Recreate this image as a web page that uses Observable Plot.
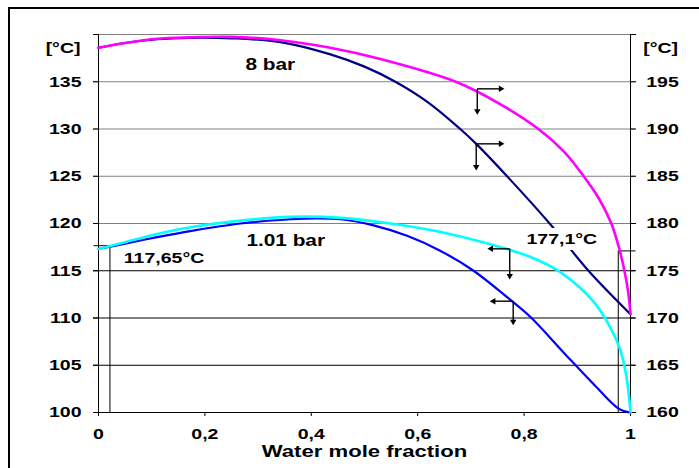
<!DOCTYPE html>
<html><head><meta charset="utf-8">
<script src="https://cdn.jsdelivr.net/npm/d3@7"></script>
<script src="https://cdn.jsdelivr.net/npm/@observablehq/plot@0.6"></script>
<style>
body{margin:0;background:#fff;}
#wrap{position:relative;width:699px;height:468px;overflow:hidden;background:#fff;}
#wrap svg{position:absolute;left:0;top:0;}
#border{position:absolute;left:8px;top:7px;width:900px;height:900px;border-top:2px solid #000;border-left:2px solid #000;z-index:2;}
</style></head><body><div id="wrap"></div>
<script>
// ---- data ----
const xTicks = [0, 0.2, 0.4, 0.6, 0.8, 1];
const xTickLabels = ["0", "0,2", "0,4", "0,6", "0,8", "1"];
const leftTicks = [100, 105, 110, 115, 120, 125, 130, 135, 140];
const rightTicks = [160, 165, 170, 175, 180, 185, 190, 195, 200];
const gridDark = [100, 105, 110, 115];
const gridLight = [120, 125, 130, 135, 140];
const unitLabel = "[°C]";
const xLabel = "Water mole fraction";

// 8 bar curves (right axis, °C)
const dew8X = [0, 0.05, 0.11, 0.17, 0.25, 0.342, 0.436, 0.53, 0.6715, 0.75, 0.827, 0.875, 0.912, 0.94, 0.964, 0.98, 0.99, 0.996, 1];
const dew8T = [198.6, 199.1, 199.55, 199.7, 199.75, 199.4, 198.6, 197.4, 195.0, 192.8, 190.0, 187.6, 185.0, 182.7, 180.0, 177.1, 174.6, 172.6, 170.4];
const bub8X = [0, 0.05, 0.11, 0.17, 0.25, 0.342, 0.436, 0.5, 0.558, 0.62, 0.68, 0.7105, 0.768, 0.848, 0.921, 1];
const bub8T = [198.6, 199.1, 199.5, 199.65, 199.6, 199.2, 197.9, 196.6, 195.0, 192.8, 190.0, 188.4, 185.0, 180.0, 175.0, 170.4];

// 1.01 bar curves (left axis, °C)
const dew1X = [0, 0.048, 0.11, 0.173, 0.267, 0.361, 0.455, 0.549, 0.643, 0.737, 0.81, 0.868, 0.931, 0.962, 0.981, 0.991, 0.997, 1];
const dew1T = [117.3, 118.0, 118.9, 119.6, 120.3, 120.7, 120.6, 120.0, 119.1, 117.8, 116.5, 114.85, 111.7, 109.0, 106.6, 104.2, 101.8, 100];
const bub1X = [0, 0.048, 0.11, 0.173, 0.267, 0.361, 0.41, 0.455, 0.517, 0.58, 0.643, 0.705, 0.768, 0.812, 0.875, 0.934, 0.978, 1];
const bub1T = [117.3, 117.85, 118.55, 119.2, 120.0, 120.45, 120.55, 120.45, 119.8, 118.7, 117.1, 115.0, 112.2, 110.1, 106.3, 102.8, 100.4, 100];

// reference lines
const refLeftX = 0.0215, refLeftT = 117.65;
const refRightX = 0.977, refRightT = 177.1;
const tickOut = -0.0094, tickOutR = 1.0094;

// arrows: corner (x, y), vertical end, horizontal end
const arrowX = [0.712, 0.710, 0.773, 0.7795];
const arrowY = [134.25, 128.43, 117.32, 111.78];
const arrowDown = [131.9, 126.0, 114.47, 109.63];
const arrowSide = [0.756, 0.756, 0.738, 0.7425];

// labels
const labels = [
  {x: 0.2763, y: 136.74, text: "8 bar", size: 16},
  {x: 0.278, y: 118.12, text: "1.01 bar", size: 16},
  {x: 0.0476, y: 116.37, text: "117,65°C", size: 15}
];
const haloLabel = [{x: 0.8045, y: 118.38, text: "177,1°C"}];

// ---- build ----
const off = 60; // right axis = left axis + 60
const zip = (xs, ts, d = 0) => xs.map((x, i) => ({x, t: ts[i] - d}));
const dew8 = zip(dew8X, dew8T, off), bub8 = zip(bub8X, bub8T, off);
const dew1 = zip(dew1X, dew1T), bub1 = zip(bub1X, bub1T);

const links = [];
const heads = [];
arrowX.forEach((x, i) => {
  links.push({x1: x, y1: arrowY[i], x2: x, y2: arrowDown[i]});
  links.push({x1: x, y1: arrowY[i], x2: arrowSide[i], y2: arrowY[i]});
  heads.push({x, y: arrowDown[i], rot: 180});
  heads.push({x: arrowSide[i], y: arrowY[i], rot: arrowSide[i] > x ? 90 : 270});
});

const refLinks = [
  {x1: tickOut, y1: refLeftT, x2: refLeftX, y2: refLeftT},
  {x1: refLeftX, y1: refLeftT, x2: refLeftX, y2: 100},
  {x1: refRightX, y1: refRightT - off, x2: tickOutR, y2: refRightT - off},
  {x1: refRightX, y1: refRightT - off, x2: refRightX, y2: 100}
];

const curve = "catmull-rom";
const chart = Plot.plot({
  width: 699, height: 468,
  marginLeft: 98, marginRight: 69, marginTop: 34, marginBottom: 56,
  x: {domain: [0, 1]},
  y: {domain: [100, 140]},
  style: {fontFamily: "'Liberation Sans', Arial, sans-serif", fontWeight: "bold", fontSize: "15px", color: "#000", background: "#fff"},
  marks: [
    Plot.ruleY(gridLight, {x1: tickOut, x2: tickOutR, stroke: "#808080", strokeWidth: 1}),
    Plot.ruleY(gridDark, {x1: tickOut, x2: tickOutR, stroke: "#000", strokeWidth: 1}),
    Plot.ruleX([0, 1], {stroke: "#000", strokeWidth: 1}),
    Plot.axisY(leftTicks, {anchor: "left", tickSize: 5, tickPadding: 12, label: null,
      tickFormat: d => d === 140 ? "" : String(d)}),
    Plot.axisY(rightTicks.map(d => d - off), {anchor: "right", tickSize: 5, tickPadding: 10.7, label: null,
      tickFormat: d => (d + off) === 200 ? "" : String(d + off)}),
    Plot.axisX(xTicks, {tickSize: 4, tickPadding: 12, label: null,
      tickFormat: d => xTickLabels[xTicks.indexOf(d)]}),
    Plot.text([unitLabel], {frameAnchor: "top-left", dx: -18, dy: 7.5, textAnchor: "end", fontSize: 15}),
    Plot.text([unitLabel], {frameAnchor: "top-right", dx: 12.7, dy: 7.5, textAnchor: "start", fontSize: 15}),
    Plot.text([xLabel], {frameAnchor: "bottom", dy: 44, fontSize: 17}),
    Plot.link(refLinks, {x1: "x1", y1: "y1", x2: "x2", y2: "y2", stroke: "#000", strokeWidth: 1}),
    Plot.line(bub1, {x: "x", y: "t", stroke: "#0000FF", strokeWidth: 2.2, curve}),
    Plot.line(dew1, {x: "x", y: "t", stroke: "#00FFFF", strokeWidth: 2.6, curve}),
    Plot.line(bub8, {x: "x", y: "t", stroke: "#000080", strokeWidth: 2.2, curve}),
    Plot.line(dew8, {x: "x", y: "t", stroke: "#FF00FF", strokeWidth: 2.6, curve}),
    Plot.link(links, {x1: "x1", y1: "y1", x2: "x2", y2: "y2", stroke: "#000", strokeWidth: 1.4}),
    Plot.dot(heads, {x: "x", y: "y", symbol: "triangle", r: 2.4, rotate: "rot", fill: "#000", stroke: null}),
    Plot.text(labels, {x: "x", y: "y", text: "text", fontSize: d => d.size, textAnchor: "start"}),
    Plot.text(haloLabel, {x: "x", y: "y", text: "text", fontSize: 15, textAnchor: "start", stroke: "#fff", strokeWidth: 12, fill: "#000"})
  ]
});

const wrap = document.getElementById("wrap");
wrap.appendChild(chart);
const b = document.createElement("div"); b.id = "border"; wrap.appendChild(b);

// emulate the horizontally stretched lettering of the original
chart.querySelectorAll("text").forEach(t => {
  if (!t.textContent) return;
  const len = t.getComputedTextLength();
  if (len > 0) {
    t.setAttribute("textLength", (len * 1.3).toFixed(2));
    t.setAttribute("lengthAdjust", "spacingAndGlyphs");
  }
});
</script></body></html>
